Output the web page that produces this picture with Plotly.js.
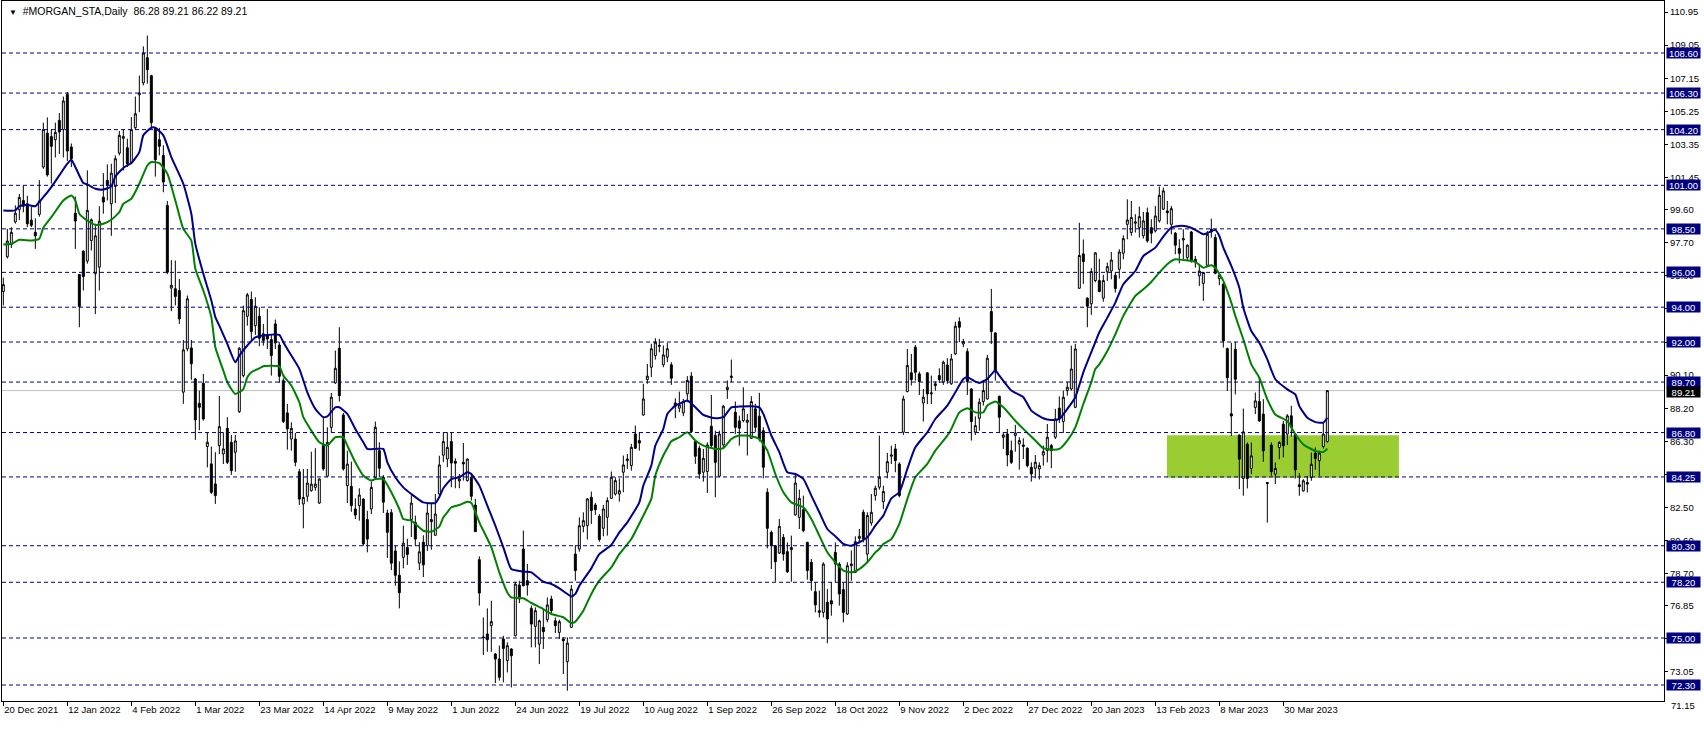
<!DOCTYPE html>
<html>
<head>
<meta charset="utf-8">
<script src="https://cdn.plot.ly/plotly-3.0.1.min.js"></script>
<style>html,body{margin:0;padding:0;background:#fff;}#chart{width:1704px;height:730px;}</style>
</head>
<body>
<div id="chart"></div>
<script>
const symbolName = '#MORGAN_STA,Daily';
const open = [
94.9,96.9,97.6,98.9,99.6,100.13,99.94,99.0,98.3,99.33,
102.05,104.0,103.8,103.62,104.73,104.2,106.22,103.2,99.4,95.88,
97.22,96.65,97.83,95.92,96.3,100.32,101.28,99.94,100.94,102.85,
103.7,103.16,102.28,104.31,106.2,106.88,108.33,107.3,104.25,103.62,
102.72,99.84,95.1,95.06,94.96,89.12,91.61,91.66,89.88,88.48,
89.63,86.0,85.0,83.85,86.05,85.57,87.04,86.24,85.67,88.0,
90.07,93.48,94.44,92.94,93.48,92.47,92.41,92.14,93.04,91.83,
89.78,87.93,86.43,86.43,84.55,82.7,83.14,83.46,83.65,82.75,
86.05,84.29,87.1,89.65,91.64,87.81,83.75,83.71,82.41,82.6,
82.98,81.8,82.41,84.23,85.76,84.23,82.18,82.2,80.0,78.6,
79.63,80.2,81.8,81.64,79.3,80.5,80.3,81.8,80.9,83.27,
85.5,85.28,86.28,85.15,84.02,85.09,84.04,84.23,82.64,79.5,
75.0,75.23,75.71,74.08,73.79,74.94,73.7,74.37,75.13,78.04,
80.11,78.29,76.7,75.67,74.65,75.61,76.05,77.24,75.99,75.32,
74.94,73.64,75.61,79.82,80.11,81.41,81.45,83.08,82.64,81.99,
81.3,81.93,83.02,83.27,83.27,84.52,85.19,84.9,86.72,86.34,
87.81,89.84,90.55,91.22,91.8,90.69,91.13,90.69,88.5,88.2,
87.93,89.02,90.04,86.28,85.9,84.52,84.56,87.16,86.63,84.29,
86.09,89.27,89.96,87.97,87.47,87.49,87.39,86.47,88.16,87.74,
86.91,83.37,81.07,80.3,79.88,80.78,79.96,80.07,82.07,81.93,
82.37,80.49,79.35,77.66,76.47,76.47,77.05,77.14,79.92,79.25,
77.78,76.38,79.15,78.77,80.72,82.22,79.82,81.61,83.18,83.66,
82.83,84.52,85.44,85.86,84.99,86.82,89.15,90.23,91.7,90.17,
88.5,90.23,89.02,89.5,90.07,89.69,90.68,89.6,91.32,93.17,
91.89,91.45,89.3,86.82,87.62,88.58,88.73,93.75,92.52,88.88,
86.53,86.72,85.76,86.63,86.15,86.09,85.9,84.8,84.75,84.71,
85.51,85.76,86.05,86.53,88.2,87.43,89.21,89.3,88.25,95.09,
97.06,94.52,94.19,95.53,95.53,94.52,96.03,96.08,95.83,96.18,
97.1,98.76,98.29,98.82,98.57,98.1,99.43,98.57,98.38,98.96,
99.63,99.53,98.76,98.25,97.37,97.86,96.85,98.32,96.75,95.8,
95.37,96.41,98.48,98.0,95.64,95.32,91.62,87.88,91.58,86.65,
84.16,86.13,84.74,88.24,88.58,87.86,83.93,86.08,84.41,85.94,
87.28,86.71,87.76,86.71,83.8,83.45,83.93,84.22,85.62,85.18,
86.0,86.28];
const high = [
95.7,98.5,98.6,99.85,100.5,101.0,100.4,99.75,99.1,101.3,
104.6,104.9,104.2,104.6,105.15,106.1,106.36,103.4,100.35,95.9,
97.26,101.86,99.1,98.7,99.8,101.7,102.2,102.24,102.72,104.12,
104.2,103.68,104.92,106.1,107.3,108.98,109.6,107.35,104.35,104.3,
103.3,100.1,96.7,96.68,95.63,92.12,94.67,92.12,89.94,89.21,
90.17,86.82,86.0,85.67,88.9,86.82,87.68,86.66,86.66,91.7,
94.09,94.82,94.9,94.57,94.0,93.04,93.9,92.41,93.29,91.99,
89.92,88.44,87.39,86.78,84.71,84.71,84.71,85.7,85.9,84.17,
87.62,87.1,89.07,91.51,92.85,87.93,85.76,85.13,83.02,83.6,
83.02,82.31,83.98,87.43,86.24,84.36,82.37,82.4,80.3,79.4,
81.45,80.7,83.2,82.03,80.5,80.9,82.7,82.7,83.27,85.47,
86.8,86.82,86.82,85.32,84.42,86.2,85.3,84.48,82.99,79.69,
76.18,76.7,77.14,74.14,74.56,75.13,74.75,74.41,78.23,78.29,
81.17,79.25,76.86,76.76,76.05,76.66,77.33,77.43,76.18,76.05,
75.04,75.04,78.04,80.34,81.93,82.22,83.02,83.41,82.76,82.12,
82.64,83.08,84.56,84.23,84.17,85.48,85.57,86.15,87.2,86.82,
89.6,90.74,91.9,92.22,92.18,91.8,91.95,90.84,88.77,89.15,
88.73,90.04,90.27,86.34,86.05,85.86,86.24,88.96,86.91,86.91,
88.39,89.79,90.99,88.58,87.77,89.4,87.87,88.89,88.45,89.08,
87.1,83.6,81.17,80.34,81.84,80.97,80.49,80.88,84.37,83.52,
83.18,80.53,79.54,78.2,77.72,79.35,77.81,78.2,80.49,79.35,
78.2,79.35,80.03,80.84,81.26,82.37,82.22,83.27,83.75,86.63,
83.75,85.63,86.05,86.15,85.09,88.92,91.6,91.32,91.83,90.3,
89.3,90.26,90.07,89.73,90.49,90.93,91.07,91.32,93.17,93.42,
92.18,91.64,89.34,87.73,88.77,89.78,91.26,95.05,92.56,88.92,
86.82,87.01,86.34,87.24,86.53,86.47,85.95,85.09,85.51,85.09,
86.05,87.29,86.15,88.16,88.88,89.21,89.73,91.79,91.89,98.85,
97.89,94.57,96.24,97.16,96.78,95.86,96.56,97.17,95.99,97.33,
98.13,100.2,100.1,99.34,99.78,99.47,99.72,99.05,99.82,100.93,
100.87,100.1,99.82,98.32,97.9,98.48,97.61,98.38,96.94,96.41,
96.03,98.38,99.09,98.19,95.99,95.41,91.68,91.96,92.0,86.7,
88.18,86.23,86.23,89.1,89.96,88.72,83.93,86.23,85.08,86.3,
87.47,87.86,88.34,86.71,84.47,84.12,84.31,85.65,85.94,85.75,
87.38,89.21];
const low = [
94.1,96.8,97.4,98.8,99.0,99.45,98.6,98.6,97.35,99.2,
101.95,101.5,101.1,102.6,102.8,102.6,102.4,102.05,97.35,92.85,
94.96,96.5,97.26,93.6,94.96,99.37,100.13,98.1,99.98,102.72,
101.85,102.05,102.24,104.2,105.2,106.74,106.84,104.35,101.5,102.72,
100.6,95.9,93.77,94.1,93.04,88.45,91.47,89.83,86.38,86.93,
87.49,84.8,83.27,82.7,85.57,84.99,84.99,84.37,84.55,87.93,
89.97,92.94,92.08,92.41,91.76,91.79,91.6,90.07,91.6,89.65,
87.35,85.82,85.76,84.86,82.64,81.3,82.83,83.4,83.46,82.7,
84.61,84.23,86.82,89.6,88.58,84.61,82.75,82.25,81.83,81.74,
80.3,79.92,82.12,84.1,84.23,82.18,79.6,78.9,78.0,76.7,
79.0,79.2,80.8,80.3,78.9,78.5,80.0,80.07,80.88,83.18,
85.1,84.81,83.66,83.6,83.6,84.04,83.98,82.89,81.11,76.86,
74.02,74.21,74.21,72.41,72.55,72.45,73.02,72.16,75.09,77.0,
77.97,77.43,74.46,74.46,73.5,74.37,75.9,76.38,75.29,74.94,
72.93,71.97,75.61,78.29,79.96,81.07,80.65,81.55,82.07,80.53,
80.84,80.88,82.99,83.18,82.83,83.37,84.71,84.61,85.86,85.76,
87.77,89.6,89.98,90.99,91.41,90.55,90.84,89.54,87.62,87.97,
87.74,88.54,86.82,85.0,84.14,83.98,83.33,85.9,83.08,84.23,
85.9,88.73,89.69,86.72,86.05,87.39,85.48,86.43,86.82,86.28,
84.17,80.15,78.96,78.23,79.82,79.44,78.73,78.23,82.03,81.26,
81.07,78.35,77.72,76.47,76.18,76.18,74.7,76.28,78.2,76.86,
75.9,76.32,78.29,78.73,80.49,80.49,79.35,81.45,82.89,83.52,
82.41,84.17,84.99,84.52,83.08,86.66,89.11,89.5,89.78,88.96,
87.43,88.44,88.44,89.21,89.65,89.54,89.6,89.54,91.26,91.99,
91.7,88.96,86.34,86.66,86.91,88.35,88.69,91.89,89.78,86.82,
85.86,84.86,84.99,85.7,84.67,85.28,84.8,83.98,84.17,84.1,
84.9,85.09,84.75,86.43,87.35,86.78,88.92,89.21,88.2,95.05,
95.34,92.85,93.56,95.44,94.86,94.32,95.51,95.6,94.84,95.64,
96.75,97.9,98.1,98.29,98.0,97.94,97.71,97.67,98.29,98.86,
99.59,98.76,98.19,97.04,96.52,96.75,96.66,96.56,96.27,95.22,
94.36,96.37,98.0,95.89,95.26,91.68,89.19,86.6,88.99,83.55,
83.17,83.59,84.41,87.86,87.42,85.12,81.63,84.31,83.84,85.27,
85.37,86.08,86.57,84.16,83.17,83.4,83.36,84.03,84.66,84.31,
85.88,86.22];
const close = [
95.3,97.8,98.3,99.4,100.3,99.8,98.79,98.7,98.1,100.1,
104.2,101.6,103.24,104.04,104.06,105.84,102.97,102.53,98.95,94.04,
95.76,99.56,99.02,98.1,98.94,100.04,100.99,101.7,102.53,103.87,
103.8,102.24,104.2,105.11,106.3,108.6,107.64,104.6,102.47,103.24,
101.19,96.01,95.26,94.62,93.33,91.55,94.48,90.75,87.53,88.25,
87.58,86.24,83.37,83.18,87.14,85.86,85.09,84.61,86.32,91.64,
93.8,94.71,92.6,94.06,92.22,92.08,92.18,91.22,91.95,90.03,
87.43,87.01,87.04,85.09,82.98,83.07,83.9,83.84,83.84,84.13,
84.71,86.24,88.83,90.49,88.92,84.71,84.99,82.6,82.06,83.21,
80.4,80.68,83.65,87.1,84.75,82.8,81.07,79.3,78.6,77.6,
80.45,79.8,82.75,80.68,79.95,79.2,82.18,81.68,82.12,84.94,
86.28,85.95,85.05,85.04,84.14,85.0,85.28,83.14,81.11,77.58,
75.05,74.9,75.94,73.79,72.74,74.4,74.56,73.98,78.1,77.24,
78.0,78.04,75.8,76.57,75.99,75.36,76.9,76.57,75.71,75.94,
74.84,74.71,77.81,78.87,81.45,81.74,82.99,82.32,82.37,80.65,
82.41,82.89,84.23,84.04,83.46,84.94,85.28,85.95,85.9,86.2,
88.73,90.04,91.61,91.99,91.76,91.26,91.61,89.92,88.31,88.39,
88.58,89.79,86.86,85.44,84.42,85.32,86.09,86.05,85.09,86.72,
88.31,89.4,90.04,87.1,87.05,88.16,87.51,88.58,87.1,86.43,
84.81,81.3,80.3,79.38,81.41,79.82,78.81,80.2,83.9,83.02,
81.17,78.87,78.29,76.9,76.57,79.25,76.09,76.95,79.25,77.53,
76.47,79.15,79.25,80.53,80.84,80.69,82.03,82.22,83.6,84.23,
83.41,85.13,85.51,85.19,83.18,88.73,90.65,89.84,90.26,89.73,
88.83,89.02,89.08,89.6,89.84,90.84,89.78,91.03,92.91,92.85,
92.03,89.73,87.43,87.2,88.54,89.21,91.07,92.6,90.3,87.68,
86.66,85.51,85.09,86.78,86.34,86.01,84.9,84.42,85.09,84.9,
85.7,86.53,85.76,87.58,87.58,88.83,89.4,90.45,91.6,96.97,
96.62,94.06,96.05,97.12,94.9,95.53,96.33,96.71,95.07,97.17,
97.94,99.01,99.15,98.9,99.2,98.96,97.81,98.25,99.24,100.43,
100.68,99.43,99.66,97.56,97.1,97.94,97.56,96.66,96.6,96.08,
95.99,98.19,98.32,95.95,95.83,92.06,89.95,87.75,89.86,85.27,
86.84,84.16,85.46,88.62,87.47,85.75,83.88,84.55,84.74,86.23,
86.04,87.76,87.09,84.66,83.7,84.03,83.84,84.98,85.31,85.62,
86.71,89.21];

// moving average of highs (blue) and of lows (green), read at bar indices
const blueIdx = [0,3,4,6,8,10,12,14,16,17,18,20,21,23,25,27,28,30,32,34,35,37,38,40,42,45,47,48,50,52,53,54,56,58,59,61,63,66,69,70,72,74,76,78,80,81,83,84,86,88,90,91,93,95,96,98,100,102,105,108,109,110,112,114,116,117,119,121,123,125,127,130,132,135,137,139,142,143,144,147,149,152,154,156,159,160,162,163,165,166,168,169,171,173,175,178,180,182,184,187,189,190,192,194,196,198,200,202,204,206,208,210,212,214,216,218,219,220,222,224,226,228,231,233,236,238,240,241,243,244,246,248,249,252,255,257,260,262,264,266,268,270,273,274,276,278,280,283,285,288,290,292,294,296,298,300,301,303,304,305,307,309,310,312,314,316,318,321,323,324,326,328,330,331];
const blueMA = [99.56,99.56,99.8,99.88,99.8,100.32,100.9,101.57,102.24,102.47,102.05,101.13,101.05,100.8,100.76,100.94,101.51,102.0,102.28,102.91,103.87,104.31,104.31,103.87,102.62,101.09,99.37,97.64,95.92,94.39,93.43,92.94,91.89,90.84,91.22,91.8,92.27,92.41,92.41,91.99,91.22,90.46,89.11,88.16,87.68,87.73,88.25,88.25,87.87,87.0,86.24,85.86,85.86,85.86,85.09,84.23,83.65,83.27,82.79,82.75,83.1,83.6,84.13,84.23,84.52,84.42,83.75,82.6,81.45,80.21,78.96,78.81,78.77,78.23,78.1,77.85,77.39,77.53,78.0,79.0,79.82,80.34,81.07,81.64,82.79,83.75,84.9,86.05,87.01,87.87,88.35,88.45,88.64,88.25,87.81,87.62,87.68,88.25,88.29,88.31,88.25,87.87,86.63,85.67,84.52,84.42,84.14,83.18,82.22,81.26,80.84,80.4,80.3,80.5,80.78,81.45,81.74,82.03,83.02,83.37,84.71,85.95,86.82,87.58,88.35,89.11,89.88,89.98,89.73,89.65,89.88,90.36,90.07,89.21,88.83,88.06,87.62,87.52,87.58,88.16,88.83,90.26,91.99,92.56,93.4,94.26,95.32,96.08,96.94,97.42,98.06,98.57,98.67,98.63,98.44,98.19,98.25,98.44,98.09,97.42,96.37,95.12,93.97,92.63,91.96,91.0,89.86,89.28,88.99,88.32,87.65,87.4,87.37,87.65];
const greenIdx = [0,2,4,7,9,10,12,15,17,18,19,21,23,25,27,29,30,32,34,36,37,39,41,43,45,47,48,50,52,53,55,56,58,60,61,62,64,65,69,70,72,74,75,77,79,81,83,85,86,88,90,92,93,95,97,99,100,102,105,107,109,110,111,112,114,116,117,119,122,124,126,127,130,132,135,137,140,142,143,145,147,149,152,154,157,160,162,163,165,166,167,169,171,173,175,178,180,182,184,187,189,191,193,195,197,200,202,204,206,208,210,212,214,216,218,219,220,222,224,226,228,231,233,236,237,239,241,243,245,246,248,250,253,255,258,260,262,264,266,268,270,272,273,274,276,278,280,283,285,287,289,291,293,295,298,300,302,303,305,307,308,310,312,314,316,318,321,323,325,328,330,331];
const greenMA = [97.6,97.64,97.87,97.83,97.93,98.56,99.17,100.13,100.42,100.13,99.37,98.98,98.73,98.79,99.02,99.46,99.94,100.23,101.09,102.14,102.34,102.28,101.67,100.13,98.5,97.83,96.21,94.96,93.43,91.7,90.36,89.69,89.02,89.3,89.98,90.26,90.49,90.61,90.59,90.07,89.5,88.54,87.68,86.91,86.24,86.05,86.53,86.53,86.05,85.09,84.32,84.04,84.13,84.13,83.37,82.41,81.83,81.74,81.16,81.1,81.4,81.93,82.22,82.51,82.64,82.83,82.76,81.64,80.21,78.77,77.62,77.33,77.28,77.01,76.66,76.38,76.19,75.86,75.94,76.57,77.53,78.29,79.06,79.82,80.69,82.03,82.99,84.33,85.48,85.9,86.3,86.53,86.82,86.34,86.05,85.86,85.9,86.43,86.63,86.59,86.43,85.76,84.42,83.37,82.79,82.51,81.84,80.88,79.92,79.35,78.87,78.77,78.96,79.35,79.92,80.11,80.4,80.68,81.55,82.98,84.23,85.0,85.76,86.62,87.01,87.96,88.2,87.96,87.96,88.35,88.58,88.25,87.48,87.01,86.34,85.9,85.82,85.86,86.34,87.1,88.44,89.69,90.45,90.72,91.48,92.44,93.5,94.65,95.03,95.45,95.99,96.47,96.75,96.71,96.6,96.27,96.41,96.27,95.51,94.26,93.5,92.16,90.72,89.95,88.71,87.84,87.46,86.7,86.12,85.74,85.68,85.87];

const levels = [108.6,106.3,104.2,101.0,98.5,96.0,94.0,92.0,89.7,86.8,84.25,80.3,78.2,75.0,72.3];
const priceTicks = [110.95,109.05,107.15,105.25,103.35,101.45,99.60,97.70,95.80,93.90,92.00,90.10,88.20,86.30,84.40,82.50,80.60,78.70,76.85,74.95,73.05];
const lowestTick = 71.15;
const dateLabels = ['20 Dec 2021','12 Jan 2022','4 Feb 2022','1 Mar 2022','23 Mar 2022','14 Apr 2022','9 May 2022','1 Jun 2022','24 Jun 2022','19 Jul 2022','10 Aug 2022','1 Sep 2022','26 Sep 2022','18 Oct 2022','9 Nov 2022','2 Dec 2022','27 Dec 2022','20 Jan 2023','13 Feb 2023','8 Mar 2023','30 Mar 2023'];
const barsPerLabel = 16;
const zone = {start: 290.9, end: 348.9, top: 86.65, bottom: 84.2};

const bars = open.map((_, i) => i);
const last = open.length - 1;
const lastClose = close[last];
const yRange = [71.381, 111.587];
const xRange = [-0.333, 415.17];
const FONT = 'Liberation Sans, Arial, sans-serif';
const NAVY = '#000080';

const traces = [
  {
    type: 'candlestick', x: bars, open: open, high: high, low: low, close: close,
    increasing: {line: {color: '#000000', width: 1}, fillcolor: '#ffffff'},
    decreasing: {line: {color: '#000000', width: 1}, fillcolor: '#000000'},
    whiskerwidth: 0, hoverinfo: 'skip', showlegend: false
  },
  {
    type: 'scatter', mode: 'lines', x: blueIdx, y: blueMA,
    line: {color: '#00008B', width: 2, shape: 'spline', smoothing: 0.5},
    hoverinfo: 'skip', showlegend: false
  },
  {
    type: 'scatter', mode: 'lines', x: greenIdx, y: greenMA,
    line: {color: '#008000', width: 2, shape: 'spline', smoothing: 0.5},
    hoverinfo: 'skip', showlegend: false
  }
];

const shapes = [
  {type: 'rect', xref: 'x', yref: 'y', x0: zone.start, x1: zone.end, y0: zone.bottom, y1: zone.top,
   fillcolor: '#9ACD32', line: {width: 0}, layer: 'below'},
  {type: 'line', xref: 'paper', yref: 'y', x0: 0, x1: 1, y0: lastClose, y1: lastClose,
   line: {color: '#C0C0C0', width: 1}, layer: 'below'}
];
levels.forEach(v => shapes.push({
  type: 'line', xref: 'paper', yref: 'y', x0: 0, x1: 1, y0: v, y1: v,
  line: {color: NAVY, width: 1, dash: '4px,3px'}, layer: 'above'
}));

const annotations = [
  {xref: 'paper', yref: 'paper', x: 0, y: 1, xanchor: 'left', yanchor: 'top', xshift: 5, yshift: -2,
   showarrow: false, align: 'left',
   text: '<span style="font-size:8px">\u25BC</span>  ' + symbolName + '  ' +
     [open[last], high[last], low[last], close[last]].map(v => v.toFixed(2)).join(' '),
   font: {family: FONT, size: 10.5, color: '#000000'}},
  {xref: 'paper', yref: 'paper', x: 1, y: (lowestTick - yRange[0]) / (yRange[1] - yRange[0]),
   xanchor: 'left', yanchor: 'middle', xshift: 5, showarrow: false,
   text: lowestTick.toFixed(2), font: {family: FONT, size: 9.5, color: '#000000'}}
];
levels.forEach(v => annotations.push({
  xref: 'paper', yref: 'y', x: 1, y: v, xanchor: 'left', yanchor: 'middle', xshift: 2,
  showarrow: false, text: v.toFixed(2), bgcolor: NAVY, borderpad: 0, height: 10, width: 33,
  font: {family: FONT, size: 9.5, color: '#ffffff'}
}));
annotations.push({
  xref: 'paper', yref: 'y', x: 1, y: lastClose, xanchor: 'left', yanchor: 'middle', xshift: 2, yshift: -1,
  showarrow: false, text: lastClose.toFixed(2), bgcolor: '#000000', borderpad: 0, height: 10, width: 33,
  font: {family: FONT, size: 9.5, color: '#ffffff'}
});

const layout = {
  width: 1704, height: 730,
  margin: {l: 2, r: 40, t: 1, b: 29, pad: 0},
  paper_bgcolor: '#ffffff', plot_bgcolor: '#ffffff',
  showlegend: false,
  font: {family: FONT, size: 9.5, color: '#000000'},
  xaxis: {
    range: xRange, showgrid: false, zeroline: false, showline: true, linecolor: '#000000', linewidth: 1,
    mirror: true, ticks: 'outside', ticklen: 4, tickcolor: '#000000',
    tickvals: dateLabels.map((_, k) => k * barsPerLabel), ticktext: dateLabels,
    ticklabelposition: 'outside right', tickfont: {family: FONT, size: 9.5, color: '#000000'},
    rangeslider: {visible: false}, fixedrange: true
  },
  yaxis: {
    side: 'right', range: yRange, showgrid: false, zeroline: false, showline: true, linecolor: '#000000',
    linewidth: 1, mirror: true, ticks: 'outside', ticklen: 3, tickcolor: '#000000',
    tickvals: priceTicks, ticktext: priceTicks.map(v => v.toFixed(2)),
    tickfont: {family: FONT, size: 9.5, color: '#000000'}, fixedrange: true
  },
  shapes: shapes,
  annotations: annotations
};

Plotly.newPlot('chart', traces, layout, {displayModeBar: false, staticPlot: true});
</script>
</body>
</html>
